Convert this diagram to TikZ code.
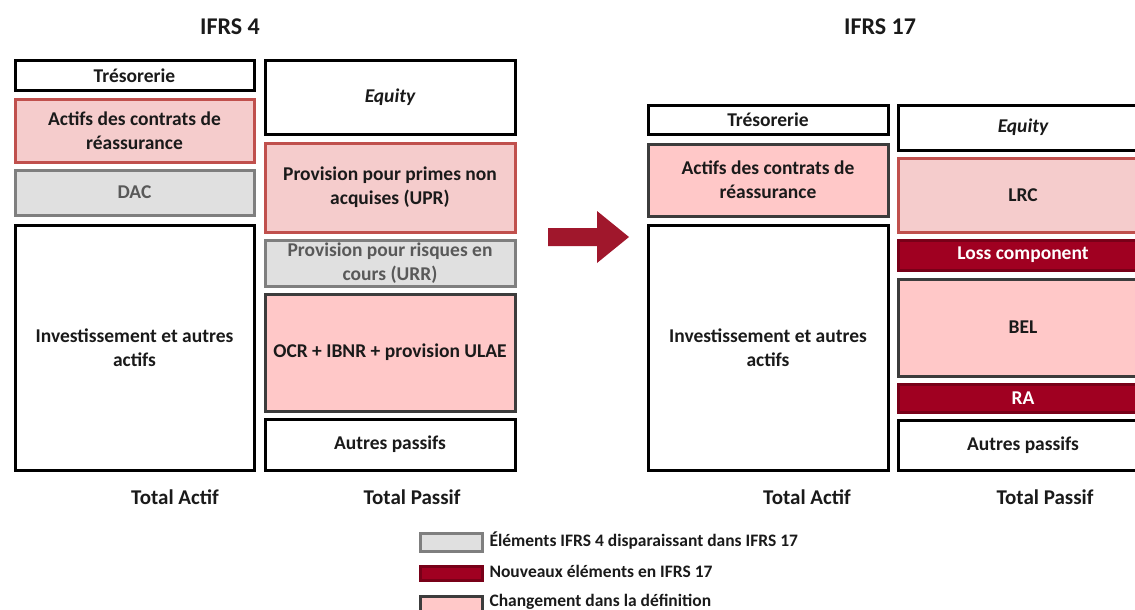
\documentclass[tikz,border=0pt]{standalone}
\usepackage{fontspec}
\setmainfont{Carlito}
\definecolor{inkblack}{HTML}{1A1A1A}
\definecolor{pinkA}{HTML}{F5CCCC}
\definecolor{pinkAline}{HTML}{C0504D}
\definecolor{pinkB}{HTML}{FFC8C8}
\definecolor{pinkBline}{HTML}{3C3C3C}
\definecolor{greyfill}{HTML}{E0E0E0}
\definecolor{greyline}{HTML}{7F7F7F}
\definecolor{greytext}{HTML}{595959}
\definecolor{wine}{HTML}{A00021}
\definecolor{wineline}{HTML}{780018}
\definecolor{arrowred}{HTML}{A0172C}
\tikzset{
  cell/.style={draw, line width=3pt, anchor=north west, align=center,
    inner sep=2pt, font=\fontsize{19.5}{24}\selectfont\bfseries, text=inkblack},
  plain/.style={cell, draw=black, fill=white},
  changedA/.style={cell, draw=pinkAline, fill=pinkA},
  changedB/.style={cell, draw=pinkBline, fill=pinkB},
  removed/.style={cell, draw=greyline, fill=greyfill, text=greytext},
  added/.style={cell, draw=wineline, fill=wine, text=white},
  italiccell/.style={font=\fontsize{19.5}{24}\selectfont\bfseries\itshape},
  heading/.style={font=\fontsize{24}{28}\selectfont\bfseries, text=inkblack},
  total/.style={font=\fontsize{21}{25}\selectfont\bfseries, text=inkblack},
  legendtext/.style={anchor=west, font=\fontsize{17.5}{21}\selectfont\bfseries, text=inkblack},
  legendbox/.style={draw, line width=3pt, anchor=north west, minimum width=62pt}
}
\begin{document}
\begin{tikzpicture}[x=1pt,y=-1pt]
\useasboundingbox (0,0) rectangle (1135,610);
\clip (0,0) rectangle (1135,610);

% titles
\node[heading] (t4) at (230,27) {IFRS 4};
\node[heading] (t17) at (880,27) {IFRS 17};

% IFRS 4 - assets
\node[plain, minimum width=239pt, minimum height=29pt] (tres4) at (13.5,59.5) {Trésorerie};
\node[changedA, minimum width=239pt, minimum height=63pt] (act4) at (13.5,97.5) {Actifs des contrats de\\réassurance};
\node[removed, minimum width=239pt, minimum height=45pt] (dac) at (13.5,168.5) {DAC};
\node[plain, minimum width=239pt, minimum height=245pt] (inv4) at (13.5,223.5) {Investissement et autres\\actifs};

% IFRS 4 - liabilities
\node[plain, italiccell, minimum width=250pt, minimum height=73pt] (eq4) at (263.5,59.5) {Equity};
\node[changedA, minimum width=250pt, minimum height=89pt] (upr) at (263.5,141.5) {Provision pour primes non\\acquises (UPR)};
\node[removed, minimum width=250pt, minimum height=46pt] (urr) at (263.5,238.5) {Provision pour risques en\\cours (URR)};
\node[changedB, minimum width=250pt, minimum height=117pt] (ocr) at (263.5,292.5) {OCR + IBNR + provision ULAE};
\node[plain, minimum width=250pt, minimum height=51pt] (aut4) at (263.5,417.5) {Autres passifs};

\node[total] (ta4) at (175,497) {Total Actif};
\node[total] (tp4) at (412,497) {Total Passif};

% transition arrow
\fill[arrowred] (548,228) -- (597,228) -- (597,211) -- (629,237) -- (597,263) -- (597,246) -- (548,246) -- cycle;

% IFRS 17 - assets
\node[plain, minimum width=240pt, minimum height=29pt] (tres17) at (646.5,103.5) {Trésorerie};
\node[changedB, minimum width=240pt, minimum height=72pt] (act17) at (646.5,142.5) {Actifs des contrats de\\réassurance};
\node[plain, minimum width=240pt, minimum height=245pt] (inv17) at (646.5,223.5) {Investissement et autres\\actifs};

% IFRS 17 - liabilities
\node[plain, italiccell, minimum width=250pt, minimum height=45pt] (eq17) at (896.5,103.5) {Equity};
\node[changedA, minimum width=250pt, minimum height=74pt] (lrc) at (896.5,156.5) {LRC};
\node[added, minimum width=250pt, minimum height=30pt] (loss) at (896.5,238.5) {Loss component};
\node[changedB, minimum width=250pt, minimum height=97pt] (bel) at (896.5,277.5) {BEL};
\node[added, minimum width=250pt, minimum height=28pt] (ra) at (896.5,382.5) {RA};
\node[plain, minimum width=250pt, minimum height=50pt] (aut17) at (896.5,418.5) {Autres passifs};

\node[total] (ta17) at (807,497) {Total Actif};
\node[total] (tp17) at (1045,497) {Total Passif};

% legend
\node[legendbox, draw=greyline, fill=greyfill, minimum height=18pt] (lg1) at (418.5,531.5) {};
\node[legendbox, draw=wineline, fill=wine, minimum height=14pt] (lg2) at (418.5,564.5) {};
\node[legendbox, draw=pinkBline, fill=pinkB, minimum height=22pt] (lg3) at (418.5,594.5) {};
\node[legendtext] (lt1) at (486,541) {Éléments IFRS 4 disparaissant dans IFRS 17};
\node[legendtext] (lt2) at (486,571) {Nouveaux éléments en IFRS 17};
\node[legendtext] (lt3) at (486,602) {Changement dans la définition};
\end{tikzpicture}
\end{document}
